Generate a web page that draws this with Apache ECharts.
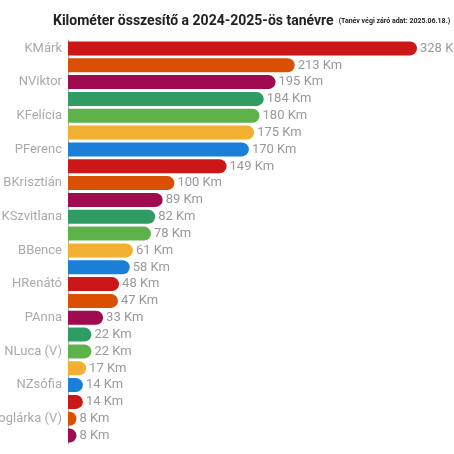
<!DOCTYPE html><html><head><meta charset="utf-8"><script src="https://cdn.jsdelivr.net/npm/echarts@6/dist/echarts.min.js"></script><style>body{margin:0}#c{width:454px;height:454px}</style></head><body><div id="c"></div><script>
const names=["KMárk","SzBenett","NViktor","BVeronika","KFelícia","BÁdám","PFerenc","FRómeó","BKrisztián","BBernadett","KSzvitlana","AMercédesz","BBence","BBrendon","HRenátó","HRikárdó","PAnna","NIza (V)","NLuca (V)","SKrisztián","NZsófia","RAttila","BBoglárka (V)","GTünde (V)"];
const values=[328,213,195,184,180,175,170,149,100,89,82,78,61,58,48,47,33,22,22,17,14,14,8,8];
const palette=["#cc1719","#d94f04","#a00b4f","#2f9d63","#5eb24a","#f1b032","#1b7fd8"];
const ch=echarts.init(document.getElementById('c'));
ch.setOption({
title:{text:'{a|Kilométer összesítő a 2024-2025-ös tanévre} {b|(Tanév végi záró adat: 2025.06.18.)}',left:48,top:7,
 textStyle:{rich:{a:{fontFamily:'Roboto',fontSize:14,color:'#222'},b:{fontFamily:'Roboto',fontSize:7,fontWeight:'bold',color:'#222'}}}},
grid:{left:68,right:37,top:40,bottom:10,outerBoundsMode:'none',containLabel:false},
xAxis:{type:'value',min:0,max:328,show:false},
yAxis:{type:'category',inverse:true,data:names,axisTick:{show:false},
 axisLine:{lineStyle:{color:'#aaa'}},axisLabel:{color:'#aaa',fontFamily:'Roboto',fontSize:13,margin:6}},
series:[{type:'bar',data:values,barWidth:14,
 itemStyle:{borderRadius:[0,7,7,0],color:p=>palette[p.dataIndex%7]},
 label:{show:true,position:'right',distance:3,formatter:'{c} Km',color:'#999',fontFamily:'Roboto',fontSize:13}}]
});
</script></body></html>
